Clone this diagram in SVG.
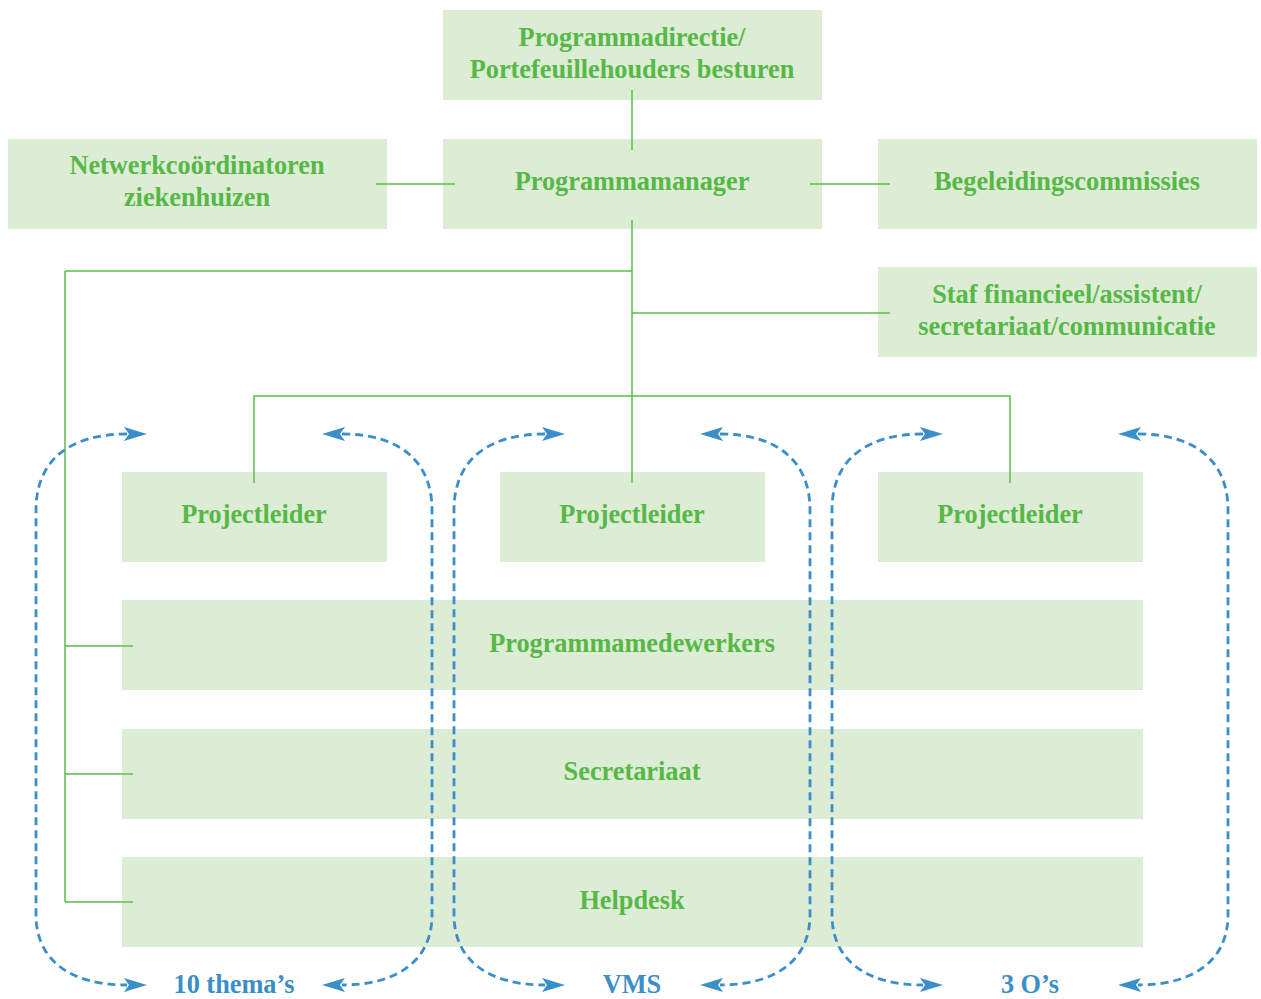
<svg xmlns="http://www.w3.org/2000/svg" width="1261" height="999" viewBox="0 0 1261 999">
<style>
.box{fill:#ddecd4}
.t{font-family:"Liberation Serif",serif;font-weight:bold;font-size:26.3px;fill:#56b847;text-anchor:middle}
.b{font-family:"Liberation Serif",serif;font-weight:bold;font-size:26.3px;fill:#3a8fc8;text-anchor:middle}
.ln{stroke:#5abf4a;stroke-width:1.5;fill:none}
.d{stroke:#3a8fc8;stroke-width:2.8;fill:none;stroke-dasharray:8 5;marker-start:url(#ah);marker-end:url(#ah)}
</style>
<defs>
<marker id="ah" viewBox="0 0 23 14" refX="3" refY="7" markerWidth="23" markerHeight="14" markerUnits="userSpaceOnUse" orient="auto-start-reverse">
<path d="M0,0 L23,7 L0,14 L5,7 z" fill="#3a8fc8"/>
</marker>
</defs>
<rect width="1261" height="999" fill="#fff"/>
<g id="n-directie"><rect class="box" x="443" y="10" width="379" height="90"/><text class="t" x="632" y="46">Programmadirectie/</text><text class="t" x="632" y="78">Portefeuillehouders besturen</text></g>
<g id="n-manager"><rect class="box" x="443" y="139" width="379" height="90"/><text class="t" x="632" y="190">Programmamanager</text></g>
<g id="n-netwerk"><rect class="box" x="8" y="139" width="379" height="90"/><text class="t" x="197" y="174">Netwerkcoördinatoren</text><text class="t" x="197" y="206">ziekenhuizen</text></g>
<g id="n-begeleiding"><rect class="box" x="878" y="139" width="379" height="90"/><text class="t" x="1067" y="190">Begeleidingscommissies</text></g>
<g id="n-staf"><rect class="box" x="878" y="267" width="379" height="90"/><text class="t" x="1067" y="303">Staf financieel/assistent/</text><text class="t" x="1067" y="335">secretariaat/communicatie</text></g>
<g id="n-pl1"><rect class="box" x="122" y="472" width="265" height="90"/><text class="t" x="254" y="523">Projectleider</text></g>
<g id="n-pl2"><rect class="box" x="500" y="472" width="265" height="90"/><text class="t" x="632" y="523">Projectleider</text></g>
<g id="n-pl3"><rect class="box" x="878" y="472" width="265" height="90"/><text class="t" x="1010" y="523">Projectleider</text></g>
<g id="n-medewerkers"><rect class="box" x="122" y="600" width="1021" height="90"/><text class="t" x="632" y="652">Programmamedewerkers</text></g>
<g id="n-secretariaat"><rect class="box" x="122" y="729" width="1021" height="90"/><text class="t" x="632" y="780">Secretariaat</text></g>
<g id="n-helpdesk"><rect class="box" x="122" y="857" width="1021" height="90"/><text class="t" x="632" y="909">Helpdesk</text></g>
<g id="connectors">
<path class="ln" d="M632 90V150M376 184H455M810 184H890M632 220V483M65 271H632M65 271V902M632 313H890M254 483V396H1010V483M65 646H133M65 774H133M65 902H133"/>
<path class="d" d="M127 434C70 434 36 460 36 510V915C36 960 70 985 127 985"/>
<path class="d" d="M342 434C398 434 432 460 432 510V915C432 960 398 985 342 985"/>
<path class="d" d="M545 434C488 434 454 460 454 510V915C454 960 488 985 545 985"/>
<path class="d" d="M720 434C776 434 810 460 810 510V915C810 960 776 985 720 985"/>
<path class="d" d="M923 434C866 434 832 460 832 510V915C832 960 866 985 923 985"/>
<path class="d" d="M1138 434C1194 434 1228 460 1228 510V915C1228 960 1194 985 1138 985"/>
</g>
<g id="labels">
<text class="b" x="234" y="993">10 thema’s</text>
<text class="b" x="632" y="993">VMS</text>
<text class="b" x="1030" y="993">3 O’s</text>
</g>
</svg>
